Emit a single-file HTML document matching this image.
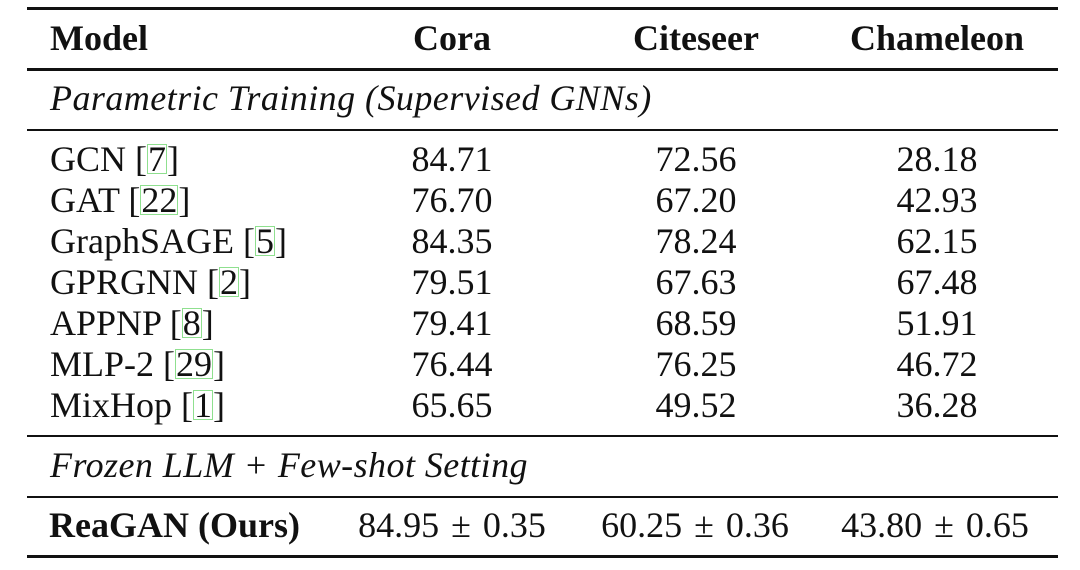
<!DOCTYPE html>
<html>
<head>
<meta charset="utf-8">
<style>
  html,body{margin:0;padding:0;background:#fff;}
  body{width:1080px;height:570px;position:relative;overflow:hidden;
       font-family:"Liberation Serif","Times New Roman",serif;font-size:36px;color:#111;}
  .rule{position:absolute;left:27px;width:1031px;background:#111;}
  .t{position:absolute;line-height:36px;white-space:nowrap;}
  .c{position:absolute;line-height:36px;white-space:nowrap;text-align:center;width:300px;}
  .b{font-weight:bold;}
  .i{font-style:italic;letter-spacing:0.45px;}
  .cite{display:inline-block;outline:1.2px solid #8fe08f;outline-offset:-1px;line-height:30px;padding:0 1px;}
  .pm{margin:0 12px;}
</style>
</head>
<body>
  <div class="rule" style="top:7px;height:3.2px;"></div>
  <div class="rule" style="top:68px;height:2.6px;"></div>
  <div class="rule" style="top:128.5px;height:2.6px;"></div>
  <div class="rule" style="top:434.5px;height:2.6px;"></div>
  <div class="rule" style="top:495.5px;height:2.6px;"></div>
  <div class="rule" style="top:555px;height:3.2px;"></div>

  <!-- header -->
  <div class="t b" style="left:50px;top:20px;">Model</div>
  <div class="c b" style="left:302px;top:20px;">Cora</div>
  <div class="c b" style="left:546px;top:20px;">Citeseer</div>
  <div class="c b" style="left:787px;top:20px;">Chameleon</div>

  <div class="t i" style="left:50px;top:80px;">Parametric Training (Supervised GNNs)</div>

  <!-- rows -->
  <div class="t" style="left:50px;top:141px;">GCN [<span class="cite">7</span>]</div>
  <div class="c" style="left:302px;top:141px;">84.71</div>
  <div class="c" style="left:546px;top:141px;">72.56</div>
  <div class="c" style="left:787px;top:141px;">28.18</div>

  <div class="t" style="left:50px;top:182px;">GAT [<span class="cite">22</span>]</div>
  <div class="c" style="left:302px;top:182px;">76.70</div>
  <div class="c" style="left:546px;top:182px;">67.20</div>
  <div class="c" style="left:787px;top:182px;">42.93</div>

  <div class="t" style="left:50px;top:223px;">GraphSAGE [<span class="cite">5</span>]</div>
  <div class="c" style="left:302px;top:223px;">84.35</div>
  <div class="c" style="left:546px;top:223px;">78.24</div>
  <div class="c" style="left:787px;top:223px;">62.15</div>

  <div class="t" style="left:50px;top:264px;">GPRGNN [<span class="cite">2</span>]</div>
  <div class="c" style="left:302px;top:264px;">79.51</div>
  <div class="c" style="left:546px;top:264px;">67.63</div>
  <div class="c" style="left:787px;top:264px;">67.48</div>

  <div class="t" style="left:50px;top:305px;">APPNP [<span class="cite">8</span>]</div>
  <div class="c" style="left:302px;top:305px;">79.41</div>
  <div class="c" style="left:546px;top:305px;">68.59</div>
  <div class="c" style="left:787px;top:305px;">51.91</div>

  <div class="t" style="left:50px;top:346px;">MLP-2 [<span class="cite">29</span>]</div>
  <div class="c" style="left:302px;top:346px;">76.44</div>
  <div class="c" style="left:546px;top:346px;">76.25</div>
  <div class="c" style="left:787px;top:346px;">46.72</div>

  <div class="t" style="left:50px;top:387px;">MixHop [<span class="cite">1</span>]</div>
  <div class="c" style="left:302px;top:387px;">65.65</div>
  <div class="c" style="left:546px;top:387px;">49.52</div>
  <div class="c" style="left:787px;top:387px;">36.28</div>

  <div class="t i" style="left:50px;top:447px;">Frozen LLM + Few-shot Setting</div>

  <div class="t b" style="left:49px;top:507px;">ReaGAN (Ours)</div>
  <div class="c" style="left:302px;top:507px;">84.95<span class="pm">±</span>0.35</div>
  <div class="c" style="left:545px;top:507px;">60.25<span class="pm">±</span>0.36</div>
  <div class="c" style="left:785px;top:507px;">43.80<span class="pm">±</span>0.65</div>
</body>
</html>
